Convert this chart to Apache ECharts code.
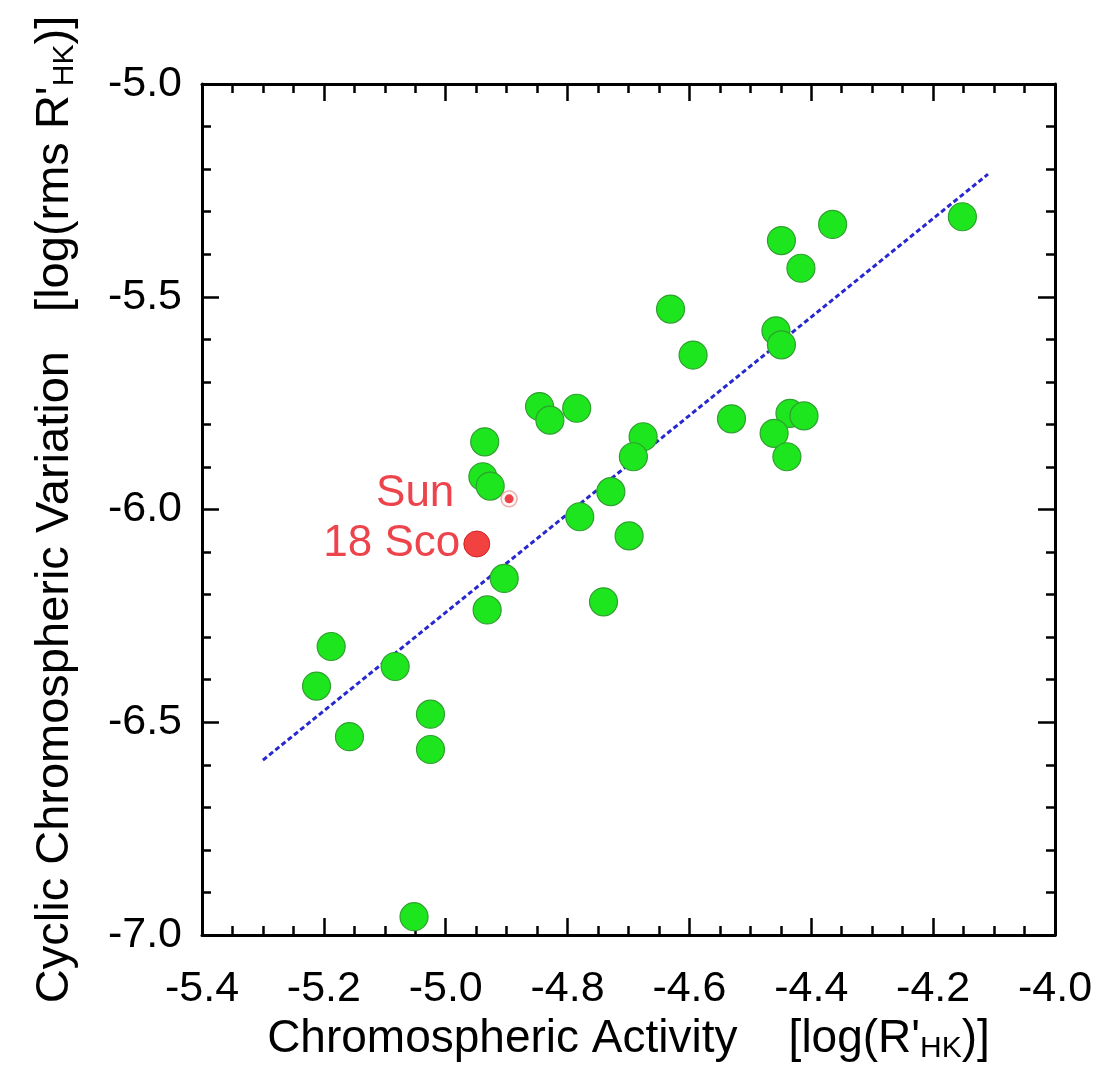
<!DOCTYPE html>
<html>
<head>
<meta charset="utf-8">
<script src="https://cdn.jsdelivr.net/npm/echarts@6/dist/echarts.min.js"></script>
<style>
html,body{margin:0;padding:0;background:#fff;}
#chart{width:1100px;height:1076px;}
</style>
</head>
<body>
<div id="chart"></div>
<script>
// Chromospheric activity log(R'HK) of each star
const starActivity = [
  -4.152, -4.365, -4.449, -4.417, -4.631, -4.458, -4.449, -4.594,
  -4.846, -4.829, -4.785, -4.531, -4.435, -4.412, -4.461, -4.676,
  -4.440, -4.692, -4.936, -4.939, -4.927, -4.729, -4.780, -4.699,
  -4.904, -4.932, -4.741, -5.188, -5.212, -5.083, -5.158, -5.025,
  -5.025, -5.052
];
// Cyclic variation log(rms R'HK) of each star
const starVariation = [
  -5.312, -5.330, -5.368, -5.433, -5.529, -5.580, -5.613, -5.637,
  -5.758, -5.790, -5.762, -5.787, -5.774, -5.780, -5.821, -5.829,
  -5.876, -5.876, -5.841, -5.923, -5.945, -5.958, -6.017, -6.062,
  -6.162, -6.236, -6.217, -6.322, -6.415, -6.369, -6.534, -6.481,
  -6.564, -6.957
];
const sunPoint = [-4.896, -5.975];
const scoPoint = [-4.949, -6.081];
const fitX = [-5.30, -4.11];
const fitY = [-6.589, -5.212];
const xTicks = [-5.4, -5.2, -5.0, -4.8, -4.6, -4.4, -4.2, -4.0];
const yTicks = [-7.0, -6.5, -6.0, -5.5, -5.0];

const FONT = 'Liberation Sans';
const starData = starActivity.map((x, i) => [x, starVariation[i]]);
const fitData = fitX.map((x, i) => [x, fitY[i]]);

const axisCommon = {
  type: 'value',
  splitLine: {show: false},
  axisLine: {show: true, onZero: false, lineStyle: {color: '#000', width: 3}},
  axisTick: {show: true, inside: true, length: 17, lineStyle: {color: '#000', width: 2.5}},
  minorTick: {show: true, length: 9, lineStyle: {color: '#000', width: 2.5}},
  minorSplitLine: {show: false}
};

const xBase = Object.assign({}, axisCommon, {
  min: xTicks[0], max: xTicks[xTicks.length - 1], interval: 0.2,
  minorTick: Object.assign({}, axisCommon.minorTick, {splitNumber: 4})
});
const yBase = Object.assign({}, axisCommon, {
  min: yTicks[0], max: yTicks[yTicks.length - 1], interval: 0.5,
  minorTick: Object.assign({}, axisCommon.minorTick, {splitNumber: 5})
});

const chart = echarts.init(document.getElementById('chart'), null, {renderer: 'canvas'});
chart.setOption({
  backgroundColor: '#fff',
  animation: false,
  grid: {left: 202, right: 45, top: 84, bottom: 141, containLabel: false},
  xAxis: [
    Object.assign({}, xBase, {
      position: 'bottom',
      axisLabel: {show: true, margin: 33, fontFamily: FONT, fontSize: 43, color: '#000',
        showMinLabel: true, showMaxLabel: true,
        formatter: v => v.toFixed(1)},
      name: "Chromospheric Activity    [log(R'{sub|HK})]",
      nameLocation: 'middle',
      nameGap: 76,
      nameTextStyle: {fontFamily: FONT, fontSize: 46, color: '#000',
        rich: {sub: {fontFamily: FONT, fontSize: 30, color: '#000', padding: [20, 0, 0, 0]}}}
    }),
    Object.assign({}, xBase, {position: 'top', axisLabel: {show: false}})
  ],
  yAxis: [
    Object.assign({}, yBase, {
      position: 'left',
      axisLabel: {show: true, margin: 20, fontFamily: FONT, fontSize: 43, color: '#000',
        showMinLabel: true, showMaxLabel: true,
        formatter: v => v.toFixed(1)},
      name: "Cyclic Chromospheric Variation   [log(rms R'{sub|HK})]",
      nameLocation: 'middle',
      nameRotate: 90,
      nameGap: 122,
      nameTextStyle: {fontFamily: FONT, fontSize: 47, color: '#000',
        rich: {sub: {fontFamily: FONT, fontSize: 30, color: '#000', padding: [20, 0, 0, 0]}}}
    }),
    Object.assign({}, yBase, {position: 'right', axisLabel: {show: false}})
  ],
  series: [
    {
      type: 'line',
      data: fitData,
      showSymbol: false,
      symbol: 'none',
      z: 1,
      lineStyle: {color: '#2828d0', width: 3, type: [5, 3]}
    },
    {
      type: 'scatter',
      data: starData,
      symbol: 'circle',
      symbolSize: 28,
      z: 2,
      itemStyle: {color: '#1ee61e', borderColor: '#2f9f2f', borderWidth: 1.2, opacity: 1}
    },
    {
      type: 'scatter',
      data: [sunPoint],
      symbol: 'circle',
      symbolSize: 16,
      z: 3,
      itemStyle: {color: '#fff4f4', borderColor: '#e89a9a', borderWidth: 1.5},
      label: {show: true, position: 'left', distance: 46, offset: [0, -5],
        formatter: 'Sun', fontFamily: FONT, fontSize: 44, color: '#e8141e'}
    },
    {
      type: 'scatter',
      data: [sunPoint],
      symbol: 'circle',
      symbolSize: 9,
      z: 4,
      itemStyle: {color: '#e8141e'}
    },
    {
      type: 'scatter',
      data: [scoPoint],
      symbol: 'circle',
      symbolSize: 26,
      z: 3,
      itemStyle: {color: '#ee1111', borderColor: '#c81010', borderWidth: 1},
      label: {show: true, position: 'left', distance: 3, offset: [0, 0],
        formatter: '18 Sco', fontFamily: FONT, fontSize: 44, color: '#e8141e'}
    }
  ]
});
</script>
</body>
</html>
